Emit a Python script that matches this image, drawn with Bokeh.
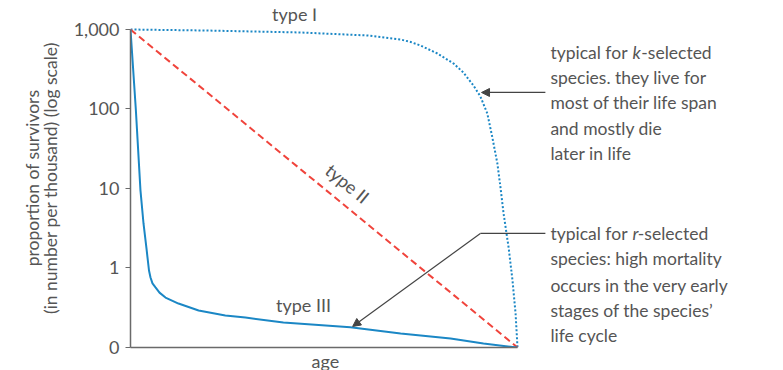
from bokeh.plotting import figure
from bokeh.models import (Range1d, FixedTicker, Label, Arrow, NormalHead, Title, LogAxis)
from bokeh.embed import file_html
from bokeh.resources import INLINE

# ---- data ----
type1_age = [0, 20, 43.9, 61.2, 69.8, 72.4, 74.9, 79.3, 83.5, 86.0, 88.6, 90.4, 92.2, 93.5,
             94.8, 95.6, 96.4, 97.7, 98.7, 99.5, 100]
type1_val = [1000, 970, 917, 841, 748, 696, 630, 499, 373, 288, 198, 144, 87.7, 43.8,
             20.6, 10.3, 4.85, 1.81, 0.70, 0.268, 0.1]

type2_age = [0, 100]
type2_val = [1000, 0.1]

type3_age = [0, 1.37, 2.58, 3.36, 4.13, 4.39, 4.78, 5.17, 5.68, 6.46, 7.49, 9.04, 12.4,
             17.6, 24.5, 29.7, 39.5, 56.8, 69.8, 82.7, 91.2, 100]
type3_val = [1000, 100, 9.4, 3.63, 1.76, 1.36, 0.93, 0.76, 0.64, 0.57, 0.49, 0.425, 0.357,
             0.292, 0.253, 0.238, 0.206, 0.18, 0.15, 0.13, 0.112, 0.1]

y_ticks = [0.1, 1, 10, 100, 1000]
y_tick_labels = ["0", "1", "10", "100", "1,000"]

FONT = "Lato"
TXT = "#555555"
BLUE = "#1b87c5"
RED = "#f0443c"
AX = "#6a6a6a"

p = figure(frame_width=640, frame_height=339, y_axis_type="log",
           x_range=Range1d(0, 165.37), y_range=Range1d(0.1, 1837),
           output_backend="svg", toolbar_location=None,
           min_border_left=130, min_border_right=0, min_border_top=8, min_border_bottom=10)
p.outline_line_color = None
p.grid.visible = False
p.background_fill_color = "white"

p.line(type1_age, type1_val, line_color=BLUE, line_width=2, line_dash="2 2")
p.line(type2_age, type2_val, line_color=RED, line_width=2, line_dash="7 4")
p.line(type3_age, type3_val, line_color=BLUE, line_width=2)

# y axis
ya = p.yaxis[0]
ya.bounds = (0.1, 1000)
ya.ticker = FixedTicker(ticks=y_ticks, minor_ticks=[])
ya.major_label_overrides = {t: l for t, l in zip(y_ticks, y_tick_labels)}
ya.major_label_text_font = FONT
ya.major_label_text_font_size = "18px"
ya.major_label_text_color = TXT
ya.major_label_standoff = 6
ya.major_tick_out = 5
ya.major_tick_in = 0
ya.minor_tick_out = 0
ya.minor_tick_in = 0
ya.major_tick_line_color = AX
ya.axis_line_color = AX
ya.axis_line_width = 1.5
ya.axis_label = "(in number per thousand) (log scale)"
ya.axis_label_text_font = FONT
ya.axis_label_text_font_size = "17.5px"
ya.axis_label_text_font_style = "normal"
ya.axis_label_text_color = TXT
ya.axis_label_standoff = 10

ya2 = LogAxis(ticker=FixedTicker(ticks=[], minor_ticks=[]), axis_line_color=None,
              major_tick_line_color=None, minor_tick_line_color=None,
              major_tick_out=0, minor_tick_out=0, major_label_standoff=0,
              major_label_text_font_size="0px",
              axis_label="proportion of survivors", axis_label_standoff=-6,
              axis_label_text_font=FONT, axis_label_text_font_size="17.5px",
              axis_label_text_font_style="normal", axis_label_text_color=TXT)
p.add_layout(ya2, "left")

# x axis
xa = p.xaxis[0]
xa.bounds = (0, 100)
xa.ticker = FixedTicker(ticks=[], minor_ticks=[])
xa.major_tick_line_color = None
xa.minor_tick_line_color = None
xa.major_tick_out = 0
xa.minor_tick_out = 0
xa.major_label_text_font_size = "0px"
xa.axis_line_color = AX
xa.axis_line_width = 1.5
xa.major_label_standoff = 0

p.add_layout(Title(text="age", align="left", offset=181, text_font=FONT,
                   text_font_size="18px", text_font_style="normal", text_color=TXT,
                   text_line_height=1.0, standoff=0), "below")

def lab(x, y, text, size="17.5px", align="left", angle=0, style="normal"):
    p.add_layout(Label(x=x, y=y, text=text, text_font=FONT, text_font_size=size,
                       text_color=TXT, text_align=align, text_baseline="middle",
                       angle=angle, angle_units="deg", text_font_style=style))

lab(42.4, 1545, "type I", "18px", "center")
lab(56.1, 11.6, "type II", "18px", "center", angle=-39.4)
lab(44.7, 0.347, "type III", "18px", "center")

# right-hand notes
lab(108.5, 514, "typical for")
lab(129.7, 514, "k", style="italic")
lab(132.0, 514, "-selected")
lab(108.5, 249, "species. they live for")
lab(108.5, 121, "most of their life span")
lab(108.5, 56.9, "and mostly die")
lab(108.5, 27.5, "later in life")

lab(108.5, 2.72, "typical for")
lab(129.7, 2.72, "r", style="italic")
lab(131.1, 2.72, "-selected")
lab(108.5, 1.315, "species: high mortality")
lab(108.5, 0.602, "occurs in the very early")
lab(108.5, 0.292, "stages of the species\u2019")
lab(108.5, 0.1416, "life cycle")

AC = "#444444"
p.add_layout(Arrow(end=NormalHead(size=8, fill_color=AC, line_color=AC),
                   x_start=107.2, y_start=161.4, x_end=90.7, y_end=161.4,
                   line_color=AC, line_width=1.2))
p.add_layout(Arrow(end=None, x_start=107.2, y_start=2.72, x_end=90.4, y_end=2.72,
                   line_color=AC, line_width=1.2))
p.add_layout(Arrow(end=NormalHead(size=8, fill_color=AC, line_color=AC),
                   x_start=90.4, y_start=2.72, x_end=57.4, y_end=0.184,
                   line_color=AC, line_width=1.2))

open("out.html", "w").write(file_html(p, INLINE))
